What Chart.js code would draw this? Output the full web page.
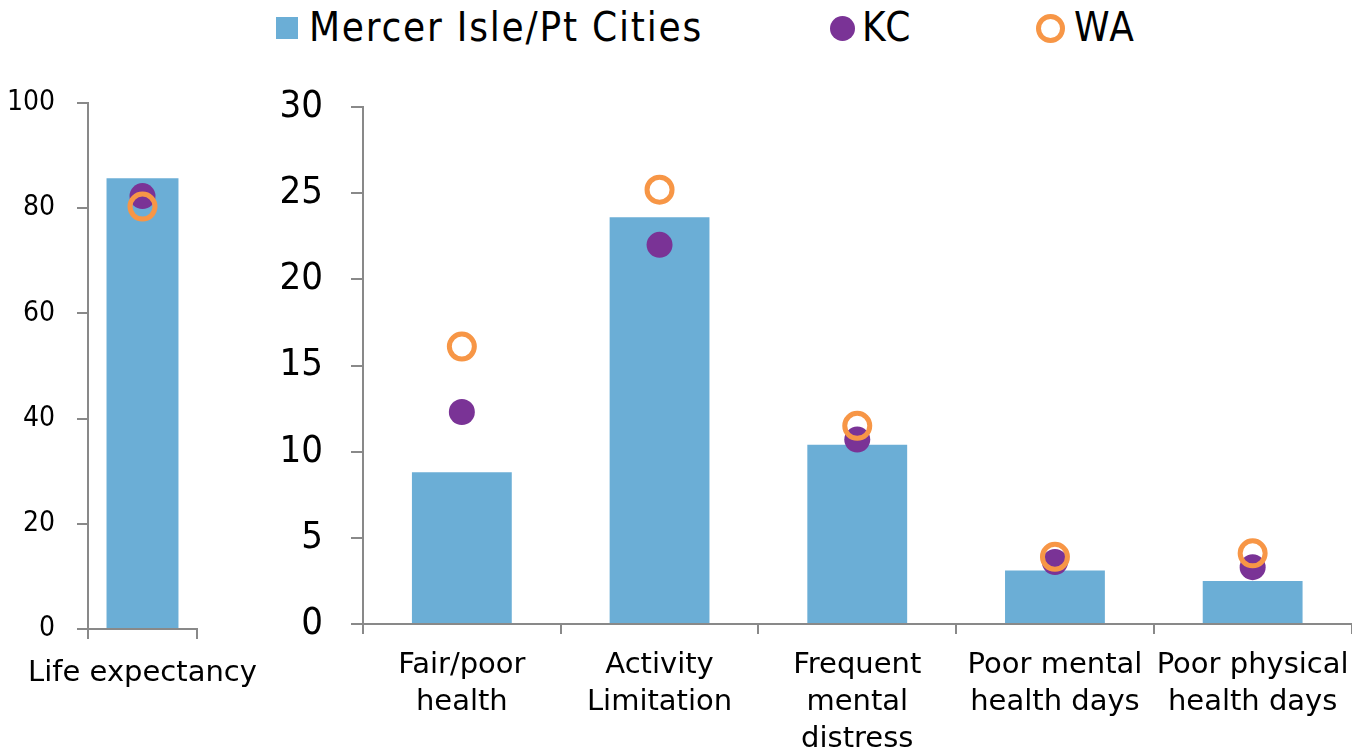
<!DOCTYPE html>
<html>
<head>
<meta charset="utf-8">
<script src="https://cdn.jsdelivr.net/npm/chart.js@4.4.1/dist/chart.umd.min.js"></script>
<style>
    html, body { margin: 0; padding: 0; background: #ffffff; }
    body { width: 1352px; height: 750px; position: relative; overflow: hidden; font-family: "DejaVu Sans Condensed", "DejaVu Sans", sans-serif; }
    #legend { position: absolute; top: 0; left: 0; width: 1352px; height: 60px; color: #000; font-size: 40px; letter-spacing: 1.8px; }
    #legend span { position: absolute; }
    .box { left: 276px; top: 17px; width: 22px; height: 22px; background: #6baed6; }
    .dot { left: 830px; top: 16px; width: 25px; height: 25px; border-radius: 50%; background: #7a3396; }
    .ring { left: 1036px; top: 14px; width: 19px; height: 19px; border-radius: 50%; border: 5px solid #f79646; }
    .lbl { top: 4px; line-height: 46px; }
    #left-wrap { position: absolute; left: 0; top: 0; width: 265px; height: 750px; }
    /* a little wider than the window: chart.js keeps room for the last label on the right */
    #right-wrap { position: absolute; left: 270px; top: 0; width: 1099px; height: 750px; }
</style>
</head>
<body>
<div id="legend">
    <span class="box"></span><span class="lbl" style="left:309px">Mercer Isle/Pt Cities</span>
    <span class="dot"></span><span class="lbl" style="left:862px">KC</span>
    <span class="ring"></span><span class="lbl" style="left:1074px">WA</span>
</div>
<div id="left-wrap"><canvas id="left-chart"></canvas></div>
<div id="right-wrap"><canvas id="right-chart"></canvas></div>
<script>
    const leftCategories = ["Life expectancy"];
    const leftMercer = [85.7];
    const leftKC = [82.3];
    const leftWA = [80.3];
    const leftTicks = [0, 20, 40, 60, 80, 100];

    const rightCategories = [
        ["Fair/poor", "health"],
        ["Activity", "Limitation"],
        ["Frequent", "mental", "distress"],
        ["Poor mental", "health days"],
        ["Poor physical", "health days"]
    ];
    const rightMercer = [8.8, 23.6, 10.4, 3.1, 2.5];
    const rightKC = [12.3, 22.0, 10.7, 3.6, 3.3];
    const rightWA = [16.1, 25.2, 11.5, 3.9, 4.1];
    const rightTicks = [0, 5, 10, 15, 20, 25, 30];

    const colors = { bar: "#6baed6", kc: "#7a3396", wa: "#f79646", axis: "#898989" };
    const condensed = "'DejaVu Sans Condensed', 'DejaVu Sans', sans-serif";
    const regular = "'DejaVu Sans', sans-serif";

    const buildChart = (canvasId, cfg) => {
        const canvas = document.getElementById(canvasId);
        return new Chart(canvas, {
            type: "bar",
            data: {
                labels: cfg.labels,
                datasets: [
                    {
                        label: "Mercer Isle/Pt Cities",
                        data: cfg.mercer,
                        backgroundColor: colors.bar,
                        borderWidth: 0,
                        categoryPercentage: 1,
                        barPercentage: cfg.barPct,
                        order: 3
                    },
                    {
                        type: "line",
                        label: "KC",
                        data: cfg.kc,
                        showLine: false,
                        pointRadius: 13,
                        pointBackgroundColor: colors.kc,
                        pointBorderWidth: 0,
                        order: 2
                    },
                    {
                        type: "line",
                        label: "WA",
                        data: cfg.wa,
                        showLine: false,
                        pointRadius: 12.5,
                        pointBackgroundColor: "rgba(0,0,0,0)",
                        pointBorderColor: colors.wa,
                        pointBorderWidth: 5,
                        order: 1
                    }
                ]
            },
            options: {
                responsive: true,
                maintainAspectRatio: false,
                animation: false,
                layout: { padding: cfg.padding },
                plugins: { legend: { display: false }, tooltip: { enabled: false } },
                scales: {
                    x: {
                        offset: true,
                        grid: { display: true, drawOnChartArea: false, offset: true, tickLength: 10, color: colors.axis, lineWidth: 2 },
                        border: { color: colors.axis, width: 2 },
                        ticks: {
                            color: "#000",
                            maxRotation: 0,
                            autoSkip: false,
                            padding: cfg.xPad,
                            font: { family: regular, size: 29, lineHeight: 1.28 }
                        },
                        afterFit: (axis) => {
                            axis.height = cfg.xHeight;
                            axis.paddingLeft = 0;
                            axis.paddingRight = 0;
                        }
                    },
                    y: {
                        min: cfg.ticks[0],
                        max: cfg.ticks[cfg.ticks.length - 1],
                        afterBuildTicks: (axis) => { axis.ticks = cfg.ticks.map((v) => ({ value: v })); },
                        grid: { display: true, drawOnChartArea: false, tickLength: cfg.yTick, color: colors.axis, lineWidth: 2 },
                        border: { color: colors.axis, width: 2 },
                        ticks: {
                            color: "#000",
                            padding: cfg.yPad,
                            font: { family: condensed, size: cfg.yFont }
                        },
                        afterFit: (axis) => {
                            axis.width = cfg.yWidth;
                            axis.paddingTop = 0;
                            axis.paddingBottom = 0;
                        }
                    }
                }
            }
        });
    };

    buildChart("left-chart", {
        labels: leftCategories,
        mercer: leftMercer,
        kc: leftKC,
        wa: leftWA,
        ticks: leftTicks,
        barPct: 0.66,
        padding: { top: 103, right: 68, bottom: 0, left: 0 },
        xHeight: 121,
        xPad: 16,
        yFont: 28,
        yTick: 11,
        yPad: 22,
        yWidth: 88
    });

    buildChart("right-chart", {
        labels: rightCategories,
        mercer: rightMercer,
        kc: rightKC,
        wa: rightWA,
        ticks: rightTicks,
        barPct: 0.505,
        padding: { top: 107, right: 0, bottom: 0, left: 0 },
        xHeight: 126,
        xPad: 13,
        yFont: 38,
        yTick: 12,
        yPad: 28,
        yWidth: 93
    });
</script>
</body>
</html>
